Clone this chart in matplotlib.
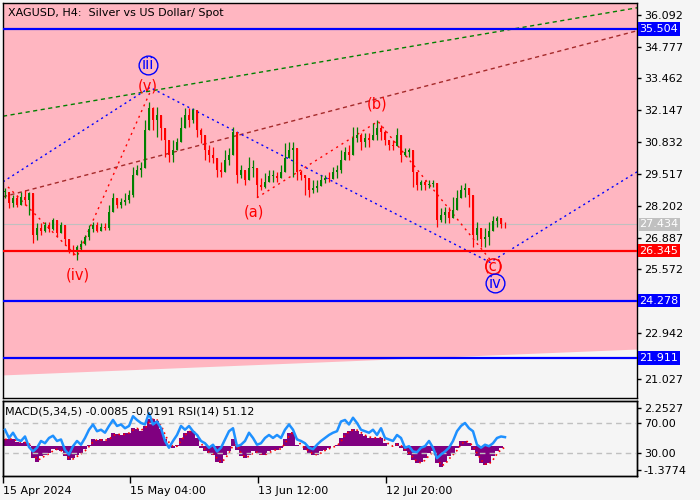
import numpy as np
import matplotlib
matplotlib.use("Agg")
import matplotlib.pyplot as plt

# H4 candles, one every 4 bars
closes = [28.78, 28.33, 28.53, 28.25, 28.57, 28.45, 28.74, 27.01, 27.30, 27.14,
          27.42, 27.22, 27.63, 27.09, 27.42, 26.81, 26.39, 26.27, 26.48, 26.60,
          26.89, 27.22, 27.42, 27.14, 27.34, 27.30, 27.96, 28.53, 28.25, 28.37,
          28.45, 28.66, 29.48, 29.68, 29.77, 31.33, 32.23, 31.74, 31.94, 31.41,
          30.92, 30.30, 30.50, 30.83, 31.41, 31.94, 31.74, 32.15, 31.33, 31.12,
          30.50, 30.30, 30.18, 29.68, 29.60, 30.09, 30.30, 31.25, 29.48, 29.68,
          29.27, 29.77, 29.77, 29.07, 28.98, 29.19, 29.44, 29.44, 29.35, 29.60,
          30.18, 30.50, 30.59, 29.60, 29.48, 29.35, 28.86, 28.94, 29.03, 29.27,
          29.35, 29.31, 29.60, 29.68, 30.09, 30.42, 30.30, 31.00, 31.12, 30.83,
          31.00, 30.92, 31.12, 31.41, 31.25, 30.92, 30.71, 30.67, 31.12, 30.30,
          30.42, 30.50, 29.60, 29.07, 29.19, 29.07, 29.11, 29.15, 27.63, 27.83,
          27.96, 27.71, 28.04, 28.53, 28.86, 28.94, 28.66, 27.01, 27.30, 26.81,
          26.89, 27.14, 27.55, 27.71, 27.46, 27.434]

highs = [28.93, 28.56, 28.64, 28.64, 28.77, 28.85, 28.77, 27.82, 27.49, 27.49,
         27.53, 27.53, 27.69, 27.32, 27.53, 27.40, 26.79, 26.58, 26.58, 26.79,
         26.99, 27.40, 27.53, 27.53, 27.49, 27.49, 28.23, 28.73, 28.52, 28.52,
         28.73, 28.85, 29.80, 29.88, 30.00, 31.74, 32.49, 32.28, 32.28, 31.74,
         31.33, 30.71, 30.92, 31.00, 31.87, 32.24, 32.24, 32.24, 31.83, 31.41,
         30.92, 30.71, 30.63, 30.09, 30.00, 30.50, 30.59, 31.45, 30.50, 29.88,
         29.55, 30.21, 30.09, 29.47, 29.35, 29.55, 29.68, 29.68, 29.59, 29.88,
         30.79, 30.83, 30.83, 29.76, 29.68, 29.47, 29.14, 29.26, 29.26, 29.47,
         29.47, 29.59, 29.80, 29.88, 30.50, 30.63, 30.71, 31.45, 31.45, 31.21,
         31.21, 31.21, 31.62, 31.74, 31.54, 31.33, 30.92, 30.92, 31.41, 30.59,
         30.59, 30.59, 30.21, 29.35, 29.26, 29.26, 29.26, 29.26, 29.14, 28.11,
         28.15, 28.15, 28.56, 28.85, 29.06, 29.14, 28.85, 28.23, 27.53, 27.20,
         27.28, 27.53, 27.78, 27.78, 27.69, 27.53]

lows = [28.52, 28.11, 28.15, 28.15, 28.23, 28.23, 27.82, 26.66, 26.79, 26.99,
        27.12, 27.12, 27.20, 26.91, 27.20, 26.58, 26.25, 26.17, 25.96, 26.37,
        26.58, 26.79, 27.12, 27.12, 27.20, 27.20, 27.20, 28.02, 28.11, 28.11,
        28.23, 28.31, 28.56, 29.47, 29.39, 29.88, 31.54, 31.33, 31.04, 30.92,
        30.21, 30.00, 30.00, 30.50, 31.12, 31.45, 31.45, 31.62, 31.04, 30.79,
        30.09, 30.00, 29.96, 29.39, 29.39, 29.76, 29.88, 30.50, 29.14, 29.35,
        29.06, 29.39, 29.39, 28.56, 28.85, 28.93, 29.18, 29.18, 29.18, 29.39,
        30.00, 30.30, 29.39, 29.26, 29.26, 28.64, 28.56, 28.73, 28.77, 29.06,
        29.14, 29.18, 29.35, 29.35, 29.55, 30.09, 30.09, 30.63, 30.83, 30.50,
        30.63, 30.63, 30.92, 30.92, 30.92, 30.71, 30.50, 30.50, 30.79, 30.00,
        30.26, 30.21, 28.98, 28.85, 28.85, 28.85, 28.93, 28.98, 27.32, 27.53,
        27.49, 27.49, 27.82, 28.23, 28.52, 28.56, 28.15, 26.50, 26.79, 26.50,
        26.50, 26.58, 27.20, 27.32, 27.28, 27.28]

# MACD(5,34,5) main values
macd = [0.40, 0.45, 0.40, 0.25, 0.20, 0.25, 0.10, -0.70, -0.90, -0.60,
        -0.50, -0.40, -0.15, -0.20, -0.30, -0.60, -0.80, -0.70, -0.50, -0.40,
        -0.15, 0.10, 0.40, 0.35, 0.40, 0.30, 0.50, 0.75, 0.70, 0.65,
        0.75, 0.80, 1.10, 1.00, 0.90, 1.20, 1.60, 1.60, 1.50, 1.00,
        0.40, 0.05, -0.10, 0.10, 0.50, 0.80, 0.90, 0.90, 0.50, -0.10,
        -0.30, -0.40, -0.50, -0.90, -1.00, -0.50, -0.30, 0.40, -0.20, -0.60,
        -0.70, -0.50, -0.30, -0.40, -0.50, -0.50, -0.30, -0.20, -0.20, -0.10,
        0.40, 0.80, 0.85, 0.10, 0.00, -0.20, -0.40, -0.50, -0.50, -0.30,
        -0.20, -0.10, 0.00, 0.05, 0.50, 0.80, 0.90, 1.00, 0.90, 0.70,
        0.60, 0.50, 0.50, 0.50, 0.50, 0.20, 0.00, 0.00, 0.20, -0.10,
        -0.30, -0.50, -0.80, -1.00, -0.95, -0.70, -0.40, -0.30, -1.00, -1.25,
        -0.90, -0.60, -0.40, -0.10, 0.30, 0.30, 0.20, -0.20, -0.60, -1.00,
        -1.10, -1.00, -0.60, -0.30, -0.10, -0.0085]

# RSI(14)
rsi = [61, 50, 57, 48, 46, 52, 38, 32, 37, 46, 43, 50, 53, 46, 48, 34, 28, 39, 46, 41,
       50, 61, 68, 59, 61, 57, 66, 74, 66, 68, 63, 66, 79, 74, 70, 68, 83, 68, 72, 63,
       46, 37, 46, 54, 66, 61, 66, 59, 54, 46, 43, 37, 41, 32, 37, 48, 59, 63, 39, 41,
       46, 57, 50, 41, 43, 50, 54, 50, 54, 50, 61, 68, 61, 48, 46, 43, 37, 35, 41, 46,
       50, 54, 57, 59, 72, 74, 68, 77, 70, 61, 59, 57, 61, 54, 63, 50, 48, 46, 54, 50,
       37, 39, 32, 31, 37, 39, 46, 37, 23, 28, 32, 37, 46, 59, 66, 70, 63, 59, 41, 37,
       41, 39, 43, 50, 52, 51.12]

date_labels = ["15 Apr 2024", "15 May 04:00", "13 Jun 12:00", "12 Jul 20:00"]
date_pos = [-0.5, 31.25, 63.25, 95.25]

price_ticks = [36.092, 34.777, 33.462, 32.147, 30.832, 29.517, 28.202, 26.887,
               25.572, 22.942, 21.027]
blue_levels = [35.504, 24.278, 21.911]
red_level = 26.345
last_price = 27.434

# wave drawing: (x, price)
wave_blue = ([-0.5, 36.25, 121.25, 158], [29.19, 33.09, 25.86, 29.60])
wave_red1 = ([0.75, 18.0, 36.25], [28.98, 26.10, 32.89])
wave_red2 = ([63.0, 93.25, 121.25], [28.53, 31.69, 25.98])
green_line = ([-0.5, 158], [31.90, 36.38])
brown_line = ([-0.5, 158], [28.57, 35.43])
zone_x = [-0.5, 158]
zone_lo = [21.21, 22.28]

BG = "#f5f5f5"
fig = plt.figure(figsize=(7, 5), dpi=100, facecolor=BG)
ax = fig.add_axes([3 / 700, 102 / 500, 634 / 700, 395 / 500])
axm = fig.add_axes([3 / 700, 24 / 500, 634 / 700, 75 / 500])

x = np.arange(len(closes))
c = np.array(closes)
o = np.r_[c[0], c[:-1]]
hi = np.maximum(np.array(highs), np.maximum(o, c))
lo = np.minimum(np.array(lows), np.minimum(o, c))

ax.set_facecolor(BG)
ax.set_xlim(-0.5, 158)
ax.set_ylim(20.256, 36.578)
ax.fill_between(zone_x, zone_lo, 36.578, color="#ffb6c1", lw=0, zorder=0)

# candles
up = c >= o
col = np.where(up, "#008000", "#ff0000")
ax.vlines(x, lo, hi, colors=col, lw=0.9, zorder=3)
body_lo = np.minimum(o, c)
body_h = np.maximum(np.abs(c - o), 0.03)
ax.bar(x, body_h, bottom=body_lo, width=0.55, color=col, lw=0, zorder=3)

ax.axhline(last_price, color="#c0c0c0", lw=0.8, zorder=2)
for lv in blue_levels:
    ax.axhline(lv, color="#0000ff", lw=1.6, zorder=4)
ax.axhline(red_level, color="#ff0000", lw=1.6, zorder=4)

ax.plot(*green_line, color="#008000", lw=1, ls=(0, (3, 2.5)), zorder=2)
ax.plot(*brown_line, color="#a52a2a", lw=1, ls=(0, (3, 2.5)), zorder=2)
ax.plot(*wave_blue, color="#0000ff", lw=1, ls=(0, (1.5, 2.5)), zorder=2)
ax.plot(*wave_red1, color="#ff0000", lw=1, ls=(0, (1.5, 3)), zorder=2)
ax.plot(*wave_red2, color="#ff0000", lw=1, ls=(0, (1.5, 3)), zorder=2)

lab = dict(fontsize=10.5, ha="center", va="center", zorder=6)
ax.text(35.75, 34.03, "iii", color="#0000ff", **lab)
ax.plot(35.75, 34.03, "o", ms=13.5, mfc="none", mec="#0000ff", mew=1, zorder=6)
ax.text(35.75, 33.13, "(v)", color="#ff0000", **lab)
ax.text(18.25, 25.32, "(iv)", color="#ff0000", **lab)
ax.text(62.25, 27.95, "(a)", color="#ff0000", **lab)
ax.text(93.0, 32.39, "(b)", color="#ff0000", **lab)
ax.text(122.0, 25.69, "(c)", color="#ff0000", **lab)
ax.plot(122.0, 25.69, "o", ms=11, mfc="none", mec="#ff0000", mew=1, zorder=6)
ax.text(122.5, 24.99, "iv", color="#0000ff", **lab)
ax.plot(122.5, 24.99, "o", ms=13.5, mfc="none", mec="#0000ff", mew=1, zorder=6)

ax.set_xticks([])
ax.yaxis.tick_right()
ax.set_yticks(price_ticks)
ax.set_yticklabels([f"{v:.3f}" for v in price_ticks])
ax.tick_params(axis="y", direction="out", length=3, width=1, pad=2, labelsize=8)

tr = ax.get_yaxis_transform()
box = dict(boxstyle="square,pad=0.15", ec="none")
for lv in blue_levels:
    ax.text(1.004, lv, f"{lv:.3f}", transform=tr, color="white", fontsize=8, va="center",
            ha="left", bbox=dict(box, fc="#0000ff"), clip_on=False, zorder=7)
ax.text(1.004, red_level, f"{red_level:.3f}", transform=tr, color="white", fontsize=8,
        va="center", ha="left", bbox=dict(box, fc="#ff0000"), clip_on=False, zorder=7)
ax.text(1.004, last_price, f"{last_price:.3f}", transform=tr, color="white", fontsize=8,
        va="center", ha="left", bbox=dict(box, fc="#c0c0c0"), clip_on=False, zorder=7)

# MACD + RSI panel
axm.set_facecolor(BG)
axm.set_xlim(-0.5, 158)
axm.set_ylim(-1.75, 2.66)
m = np.array(macd)
sig = np.r_[m[0], (m[1:] + m[:-1]) / 2]
axm.bar(x, m, width=1.0, color="#800080", lw=0, zorder=2)
axm.plot(x, sig, color="#ff0000", lw=1.2, ls=(0, (1, 2)), zorder=3)

axr = axm.twinx()
axr.set_ylim(-0.7, 99.3)
axr.axhline(70, color="#c0c0c0", lw=1, ls=(0, (4, 3)), zorder=1)
axr.axhline(30, color="#c0c0c0", lw=1, ls=(0, (4, 3)), zorder=1)
axr.plot(x, rsi, color="#1e90ff", lw=1.8, zorder=4)
axr.set_yticks([70, 30])
axr.set_yticklabels(["70.00", "30.00"])

axm.yaxis.tick_right()
axm.set_yticks([2.2527, -1.3774])
axm.set_yticklabels(["2.2527", "-1.3774"])
for a in (axm, axr):
    a.tick_params(axis="y", direction="out", length=3, width=1, pad=2, labelsize=8)
axm.set_xticks(date_pos)
axm.set_xticklabels(date_labels, ha="left")
axm.tick_params(axis="x", direction="out", length=5, width=1, pad=2, labelsize=8)

for a in (ax, axm, axr):
    for s in a.spines.values():
        s.set_color("black")
        s.set_linewidth(1)

fig.text(8 / 700, 1 - 13 / 500, "XAGUSD, H4:  Silver vs US Dollar/ Spot", fontsize=8, va="center")
fig.text(5 / 700, 1 - 412 / 500, "MACD(5,34,5) -0.0085 -0.0191 RSI(14) 51.12", fontsize=8,
         va="center")

fig.savefig("out.png", dpi=100, facecolor=BG)
